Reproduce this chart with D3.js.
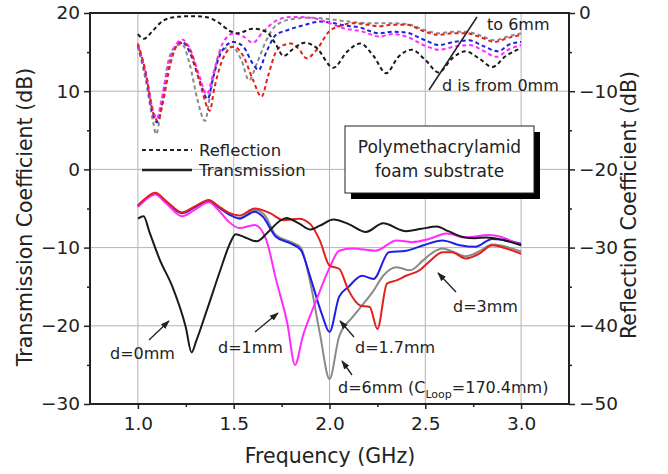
<!DOCTYPE html>
<html><head><meta charset="utf-8">
<script src="https://cdn.jsdelivr.net/npm/d3@7"></script>
<style>
html,body{margin:0;padding:0;background:#fff;}
svg text{font-family:"DejaVu Sans",sans-serif;fill:#222;}
</style></head>
<body><svg id="c" width="668" height="474"></svg>
<script>
// ---------- data (frequency GHz, dB) ----------
const seriesNames = ["d=0mm","d=1mm","d=1.7mm","d=3mm","d=6mm"];
const seriesColors = ["#1a1a1a","#ff2bff","#1f1fe6","#e3201b","#8a8a8a"];

// Transmission coefficient (left axis)
const trans_d0 = [[1.0,-6.3],[1.03,-6.0],[1.06,-8.0],[1.115,-11.6],[1.18,-15.0],[1.25,-20.2],[1.28,-23.4],[1.305,-21.9],[1.36,-18.0],[1.43,-12.9],[1.48,-9.5],[1.51,-8.3],[1.56,-8.7],[1.62,-9.2],[1.68,-8.0],[1.74,-6.6],[1.775,-6.2],[1.84,-6.9],[1.9,-7.7],[1.95,-7.2],[2.02,-6.4],[2.1,-7.0],[2.19,-8.0],[2.28,-6.9],[2.4,-7.9],[2.48,-7.6],[2.56,-7.3],[2.62,-7.9],[2.69,-8.6],[2.76,-8.8],[2.82,-8.7],[2.9,-9.0],[3.0,-9.7]];
const trans_d1 = [[1.0,-4.8],[1.05,-3.7],[1.09,-3.2],[1.15,-4.4],[1.23,-6.0],[1.3,-5.1],[1.37,-4.2],[1.42,-5.2],[1.47,-6.6],[1.53,-7.5],[1.61,-7.1],[1.67,-9.0],[1.72,-14.0],[1.78,-19.7],[1.82,-25.0],[1.86,-21.4],[1.93,-16.8],[2.0,-12.6],[2.05,-10.4],[2.12,-10.1],[2.24,-10.4],[2.35,-9.1],[2.43,-9.3],[2.52,-8.9],[2.61,-8.2],[2.71,-8.7],[2.83,-8.4],[3.0,-9.7]];
const trans_d17 = [[1.0,-4.7],[1.05,-3.6],[1.09,-3.1],[1.15,-4.2],[1.23,-5.6],[1.3,-4.8],[1.37,-4.0],[1.42,-4.8],[1.48,-5.8],[1.53,-6.3],[1.61,-5.4],[1.65,-6.0],[1.72,-8.6],[1.8,-9.5],[1.85,-10.3],[1.9,-13.8],[1.96,-18.5],[2.0,-20.8],[2.05,-16.3],[2.1,-15.0],[2.17,-13.6],[2.23,-14.0],[2.31,-10.6],[2.4,-10.4],[2.49,-9.7],[2.59,-9.1],[2.68,-9.7],[2.76,-9.9],[2.85,-8.9],[3.0,-9.5]];
const trans_d3 = [[1.0,-4.6],[1.05,-3.5],[1.09,-3.0],[1.15,-4.1],[1.23,-5.5],[1.3,-4.7],[1.37,-3.9],[1.42,-4.7],[1.48,-5.6],[1.53,-5.9],[1.61,-5.0],[1.69,-5.6],[1.76,-6.5],[1.84,-6.3],[1.9,-7.0],[1.95,-9.1],[2.0,-12.3],[2.05,-12.7],[2.1,-15.5],[2.16,-17.4],[2.21,-17.6],[2.25,-20.4],[2.3,-14.6],[2.35,-14.2],[2.4,-13.6],[2.47,-12.9],[2.52,-11.8],[2.59,-10.6],[2.64,-10.6],[2.71,-11.4],[2.78,-10.8],[2.85,-9.7],[2.92,-10.1],[3.0,-10.8]];
const trans_d6 = [[1.0,-4.7],[1.05,-3.6],[1.09,-3.1],[1.15,-4.2],[1.23,-5.6],[1.3,-4.8],[1.37,-4.0],[1.42,-4.8],[1.48,-5.8],[1.53,-6.2],[1.61,-5.2],[1.66,-5.8],[1.72,-8.4],[1.8,-9.3],[1.85,-10.0],[1.9,-14.5],[1.95,-21.0],[2.0,-26.8],[2.05,-21.4],[2.12,-18.9],[2.17,-17.4],[2.23,-15.5],[2.28,-13.6],[2.35,-12.5],[2.42,-12.9],[2.49,-11.6],[2.54,-10.6],[2.59,-10.1],[2.64,-10.5],[2.71,-11.1],[2.78,-10.5],[2.85,-9.6],[3.0,-10.5]];

// Reflection coefficient (right axis)
const refl_d0 = [[1.0,-2.7],[1.03,-3.3],[1.08,-2.2],[1.13,-1.0],[1.2,-0.5],[1.28,-0.4],[1.35,-0.5],[1.42,-1.2],[1.48,-2.3],[1.52,-2.6],[1.6,-2.0],[1.67,-2.4],[1.72,-4.0],[1.76,-5.5],[1.81,-4.6],[1.87,-3.8],[1.93,-4.4],[2.02,-7.0],[2.09,-5.0],[2.16,-3.9],[2.23,-5.5],[2.295,-7.7],[2.36,-5.6],[2.43,-4.7],[2.5,-6.0],[2.57,-7.6],[2.64,-5.8],[2.71,-4.9],[2.78,-5.8],[2.85,-6.9],[2.92,-5.5],[3.0,-4.5]];
const refl_d1 = [[1.0,-4.1],[1.04,-7.5],[1.08,-12.5],[1.1,-13.5],[1.12,-11.5],[1.16,-6.5],[1.2,-4.0],[1.23,-3.4],[1.27,-4.5],[1.32,-8.0],[1.36,-10.4],[1.39,-8.0],[1.44,-4.0],[1.5,-2.6],[1.55,-3.0],[1.6,-3.8],[1.65,-2.5],[1.72,-1.0],[1.8,-0.5],[1.9,-0.6],[2.0,-1.3],[2.08,-2.0],[2.16,-2.3],[2.26,-3.0],[2.33,-2.7],[2.4,-3.0],[2.5,-4.2],[2.57,-4.7],[2.65,-4.3],[2.73,-4.1],[2.8,-4.8],[2.87,-5.6],[2.94,-4.6],[3.0,-4.1]];
const refl_d17 = [[1.0,-4.2],[1.04,-7.8],[1.08,-13.0],[1.1,-14.0],[1.12,-12.0],[1.16,-6.8],[1.2,-4.2],[1.23,-3.7],[1.27,-5.0],[1.32,-8.5],[1.365,-11.0],[1.39,-8.5],[1.44,-4.8],[1.5,-3.7],[1.55,-4.3],[1.6,-6.5],[1.63,-7.3],[1.67,-5.0],[1.72,-2.8],[1.78,-2.2],[1.86,-1.6],[1.95,-1.1],[2.0,-1.2],[2.08,-1.6],[2.15,-1.8],[2.26,-2.6],[2.33,-2.4],[2.4,-2.5],[2.5,-3.5],[2.57,-4.1],[2.65,-3.7],[2.73,-3.5],[2.8,-4.2],[2.88,-4.9],[2.94,-4.0],[3.0,-3.7]];
const refl_d3 = [[1.0,-3.9],[1.04,-7.5],[1.08,-12.8],[1.105,-13.8],[1.13,-11.5],[1.17,-6.5],[1.21,-4.0],[1.24,-3.8],[1.28,-5.2],[1.33,-9.5],[1.375,-12.5],[1.4,-9.5],[1.45,-5.5],[1.5,-4.3],[1.55,-5.5],[1.6,-8.5],[1.645,-10.7],[1.68,-8.0],[1.72,-5.0],[1.76,-4.1],[1.8,-3.9],[1.84,-4.6],[1.88,-5.8],[1.93,-4.8],[2.0,-2.3],[2.05,-1.7],[2.12,-1.3],[2.2,-1.5],[2.26,-1.7],[2.33,-1.5],[2.4,-1.5],[2.5,-2.4],[2.57,-2.8],[2.64,-2.6],[2.71,-2.6],[2.8,-3.2],[2.86,-3.7],[2.93,-3.2],[3.0,-2.8]];
const refl_d6 = [[1.0,-4.3],[1.04,-8.5],[1.08,-14.0],[1.095,-15.5],[1.12,-12.5],[1.16,-6.0],[1.2,-4.2],[1.23,-4.0],[1.27,-6.5],[1.31,-11.0],[1.35,-13.8],[1.38,-10.0],[1.43,-5.0],[1.49,-4.3],[1.54,-6.0],[1.58,-8.6],[1.62,-6.5],[1.67,-3.5],[1.72,-1.6],[1.8,-0.8],[1.9,-0.6],[2.0,-0.8],[2.1,-1.1],[2.2,-1.3],[2.3,-1.3],[2.4,-1.4],[2.5,-2.2],[2.57,-2.6],[2.64,-2.4],[2.71,-2.4],[2.8,-3.0],[2.86,-3.5],[2.93,-3.0],[3.0,-2.6]];

const transSeries = [trans_d0, trans_d1, trans_d17, trans_d3, trans_d6];
const reflSeries = [refl_d0, refl_d1, refl_d17, refl_d3, refl_d6];

const xTicks = [1.0,1.5,2.0,2.5,3.0];
const xMinor = [1.25,1.75,2.25,2.75];
const yLeftTicks = [-30,-20,-10,0,10,20];
const yRightTicks = [-50,-40,-30,-20,-10,0];
const yLeftMinor = [-25,-15,-5,5,15];
const yRightMinor = [-45,-35,-25,-15,-5];

// ---------- layout ----------
const L=90, R=569, T=13, B=404;
const svg = d3.select("#c");
const x = d3.scaleLinear().domain([0.75,3.25]).range([L,R]);
const yL = d3.scaleLinear().domain([-30,20]).range([B,T]);
const yR = d3.scaleLinear().domain([-50,0]).range([B,T]);

// grid
const grid = svg.append("g").attr("stroke","#b4b4b4").attr("stroke-width",1);
xTicks.forEach(v=>grid.append("line").attr("x1",x(v)).attr("x2",x(v)).attr("y1",T).attr("y2",B));
[-20,-10,0,10].forEach(v=>grid.append("line").attr("x1",L).attr("x2",R).attr("y1",yL(v)).attr("y2",yL(v)));

// annotation box (behind curves)
svg.append("rect").attr("x",351).attr("y",132).attr("width",189).attr("height",67).attr("fill","#000");
svg.append("rect").attr("x",345).attr("y",126).attr("width",189).attr("height",67).attr("fill","#fff").attr("stroke","#222").attr("stroke-width",1);
svg.append("text").attr("x",439.5).attr("y",153).attr("text-anchor","middle").attr("font-size",17).text("Polymethacrylamid");
svg.append("text").attr("x",439.5).attr("y",177).attr("text-anchor","middle").attr("font-size",17).text("foam substrate");

// curves
const lineL = d3.line().x(d=>x(d[0])).y(d=>yL(d[1])).curve(d3.curveMonotoneX);
const lineR = d3.line().x(d=>x(d[0])).y(d=>yR(d[1])).curve(d3.curveMonotoneX);
const order = [4,2,1,3,0];
order.forEach(i=>{
  svg.append("path").attr("d",lineR(reflSeries[i])).attr("fill","none")
    .attr("stroke",seriesColors[i]).attr("stroke-width",2).attr("stroke-dasharray","4,3");
});
order.forEach(i=>{
  svg.append("path").attr("d",lineL(transSeries[i])).attr("fill","none")
    .attr("stroke",seriesColors[i]).attr("stroke-width",2);
});

// axes
const fs = 18.5;
const axB = svg.append("g").attr("transform",`translate(0,${B})`)
  .call(d3.axisBottom(x).tickValues(xTicks).tickFormat(d3.format(".1f")).tickSize(5).tickPadding(8));
const axBm = svg.append("g").attr("transform",`translate(0,${B})`)
  .call(d3.axisBottom(x).tickValues(xMinor).tickFormat("").tickSize(3));
const axL = svg.append("g").attr("transform",`translate(${L},0)`)
  .call(d3.axisLeft(yL).tickValues(yLeftTicks).tickSize(6).tickPadding(4));
const axLm = svg.append("g").attr("transform",`translate(${L},0)`)
  .call(d3.axisLeft(yL).tickValues(yLeftMinor).tickFormat("").tickSize(3));
const axR = svg.append("g").attr("transform",`translate(${R},0)`)
  .call(d3.axisRight(yR).tickValues(yRightTicks).tickSize(6).tickPadding(4));
const axRm = svg.append("g").attr("transform",`translate(${R},0)`)
  .call(d3.axisRight(yR).tickValues(yRightMinor).tickFormat("").tickSize(3));
[axB,axBm,axL,axLm,axR,axRm].forEach(g=>{
  g.select(".domain").remove();
  g.selectAll(".tick line").attr("stroke","#222").attr("stroke-width",1.5);
  g.selectAll("text").attr("font-size",fs).attr("font-family","DejaVu Sans").attr("fill","#222");
});
axL.selectAll("text").text(d=>d3.format("")(d).replace("-","-"));
// frame
svg.append("rect").attr("x",L).attr("y",T).attr("width",R-L).attr("height",B-T)
  .attr("fill","none").attr("stroke","#222").attr("stroke-width",2);

// axis titles
svg.append("text").attr("x",330).attr("y",463).attr("text-anchor","middle").attr("font-size",20.5).text("Frequency (GHz)");
svg.append("text").attr("transform","translate(32,217) rotate(-90)").attr("text-anchor","middle").attr("font-size",20.5).text("Transmission Coefficient (dB)");
svg.append("text").attr("transform","translate(636,205) rotate(-90)").attr("text-anchor","middle").attr("font-size",20.5).text("Reflection Coefficient (dB)");

// legend
svg.append("line").attr("x1",142).attr("x2",192).attr("y1",150).attr("y2",150).attr("stroke","#222").attr("stroke-width",2).attr("stroke-dasharray","4,3");
svg.append("line").attr("x1",142).attr("x2",192).attr("y1",170).attr("y2",170).attr("stroke","#222").attr("stroke-width",2.5);
svg.append("text").attr("x",199).attr("y",156).attr("font-size",16.5).text("Reflection");
svg.append("text").attr("x",199).attr("y",176).attr("font-size",16.5).text("Transmission");

// arrow marker
svg.append("defs").append("marker").attr("id","ah").attr("viewBox","0 0 10 10").attr("refX",9).attr("refY",5)
  .attr("markerWidth",7).attr("markerHeight",7).attr("orient","auto")
  .append("path").attr("d","M0,1.5 L10,5 L0,8.5 Z").attr("fill","#222");

function arrow(x1,y1,x2,y2){
  svg.append("line").attr("x1",x1).attr("y1",y1).attr("x2",x2).attr("y2",y2)
    .attr("stroke","#222").attr("stroke-width",1.3).attr("marker-end","url(#ah)");
}
function label(tx,ty,s){ svg.append("text").attr("x",tx).attr("y",ty).attr("font-size",16).text(s); }

arrow(149,340,169,321); label(110,359,"d=0mm");
arrow(255,332,278,313); label(218,353,"d=1mm");
arrow(354,337,340,321); label(355,353,"d=1.7mm");
arrow(456,292,438,273); label(453,312,"d=3mm");
arrow(352,375,342,361);
const t6 = svg.append("text").attr("x",338).attr("y",393).attr("font-size",16);
t6.append("tspan").text("d=6mm (C");
t6.append("tspan").attr("font-size",11).attr("dy",5).text("Loop");
t6.append("tspan").attr("dy",-5).text("=170.4mm)");

// "d is from 0mm to 6mm"
svg.append("line").attr("x1",429).attr("y1",90).attr("x2",477).attr("y2",17).attr("stroke","#222").attr("stroke-width",1.5);
label(487,30,"to 6mm");
label(442,91,"d is from 0mm");
</script></body></html>
